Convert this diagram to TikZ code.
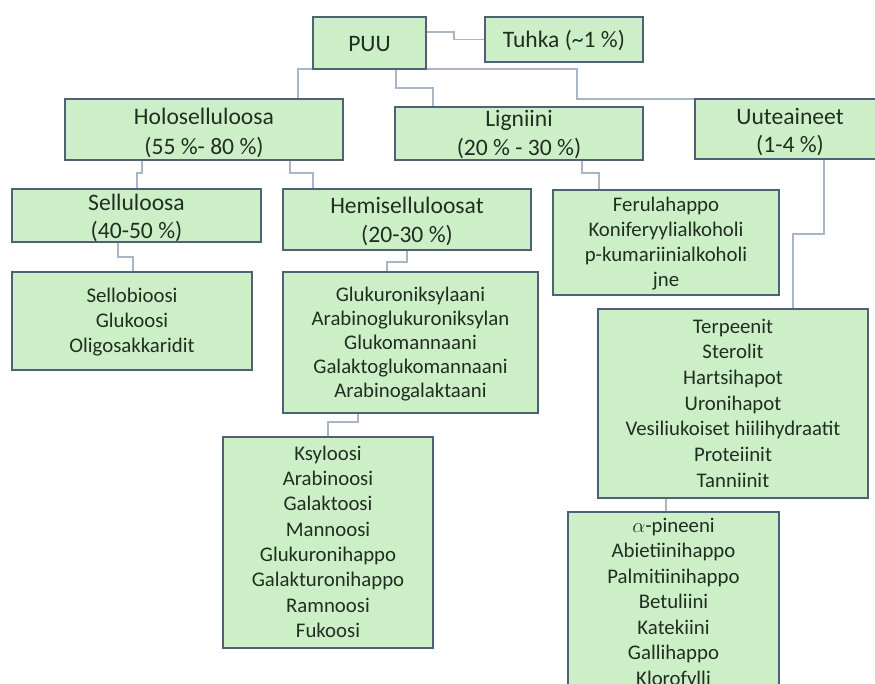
\documentclass[tikz,border=0pt]{standalone}
\usepackage{fontspec}
\setmainfont{Carlito}
\usetikzlibrary{calc,backgrounds}
\definecolor{boxfill}{RGB}{205,239,200}
\definecolor{boxline}{RGB}{78,98,118}
\definecolor{connline}{RGB}{168,182,198}
\definecolor{txtcol}{RGB}{32,46,32}
\begin{document}
\begin{tikzpicture}[x=1pt,y=-1pt,
  box/.style={draw=boxline, fill=boxfill, line width=2pt, inner sep=0pt, outer sep=0pt},
  hdr/.style={font=\fontsize{23.6}{#1}\selectfont, text=txtcol, align=center, anchor=north, inner sep=0pt},
  hdr/.default=28.5,
  lst/.style={font=\fontsize{20.8}{#1}\selectfont, text=txtcol, align=center, anchor=north, inner sep=0pt},
  lst/.default=25,
  conn/.style={draw=connline, line width=1.5pt}]
\useasboundingbox (0,0) rectangle (875,683);
\clip (0,0) rectangle (875,683);

% boxes
\node[box, minimum width=113pt, minimum height=52pt] (puu) at (369.5,43) {};
\node[box, minimum width=158pt, minimum height=45pt] (tuhka) at (564,39.5) {};
\node[box, minimum width=278pt, minimum height=61pt] (holo) at (204,129.5) {};
\node[box, minimum width=248pt, minimum height=53pt] (lig) at (519,133.5) {};
\node[box, minimum width=190pt, minimum height=60pt] (uute) at (790,129) {};
\node[box, minimum width=249pt, minimum height=53pt] (sell) at (136.5,215.5) {};
\node[box, minimum width=248pt, minimum height=61pt] (hemi) at (407,219.5) {};
\node[box, minimum width=226pt, minimum height=105pt] (ferula) at (666,242.5) {};
\node[box, minimum width=240pt, minimum height=98pt] (sellob) at (132,321) {};
\node[box, minimum width=255pt, minimum height=141pt] (gluk) at (410.5,342.5) {};
\node[box, minimum width=210pt, minimum height=211pt] (ksyl) at (328,542.5) {};
\node[box, minimum width=270pt, minimum height=189pt] (terp) at (733,403.5) {};
\node[box, minimum width=211pt, minimum height=208pt] (alpha) at (673.5,616) {};

% texts
\node[hdr] (puu-t) at (369.5,31) {\strut PUU};
\node[hdr] (tuhka-t) at (564,27.3) {\strut Tuhka (\textasciitilde 1 \%)};
\node[hdr=30] (holo-t) at (204,103.3) {\strut Holoselluloosa\\\strut (55 \%- 80 \%)};
\node[hdr] (lig-t) at (519,106.7) {\strut Ligniini\\\strut (20 \% - 30 \%)};
\node[hdr] (uute-t) at (790,104) {\strut Uuteaineet\\\strut (1-4 \%)};
\node[hdr] (sell-t) at (136.5,190) {\strut Selluloosa\\\strut (40-50 \%)};
\node[hdr] (hemi-t) at (407,193.4) {\strut Hemiselluloosat\\\strut (20-30 \%)};
\node[lst=25] (ferula-t) at (666,194.2) {\strut Ferulahappo\\\strut Koniferyylialkoholi\\\strut p-kumariinialkoholi\\\strut jne};
\node[lst=25] (sellob-t) at (132,284.5) {\strut Sellobioosi\\\strut Glukoosi\\\strut Oligosakkaridit};
\node[lst=24] (gluk-t) at (410.5,284.2) {\strut Glukuroniksylaani\\\strut Arabinoglukuroniksylan\\\strut Glukomannaani\\\strut Galaktoglukomannaani\\\strut Arabinogalaktaani};
\node[lst=25.3] (ksyl-t) at (328,442.3) {\strut Ksyloosi\\\strut Arabinoosi\\\strut Galaktoosi\\\strut Mannoosi\\\strut Glukuronihappo\\\strut Galakturonihappo\\\strut Ramnoosi\\\strut Fukoosi};
\node[lst=25.7] (terp-t) at (733,315) {\strut Terpeenit\\\strut Sterolit\\\strut Hartsihapot\\\strut Uronihapot\\\strut Vesiliukoiset hiilihydraatit\\\strut Proteiinit\\\strut Tanniinit};
\node[lst=25.5] (alpha-t) at (673.5,514.2) {\strut $\alpha$-pineeni\\\strut Abietiinihappo\\\strut Palmitiinihappo\\\strut Betuliini\\\strut Katekiini\\\strut Gallihappo\\\strut Klorofylli};

% connectors
\begin{scope}[on background layer]
\fill[white] (0,0) rectangle (875,683);
\draw[conn] ($(puu.north east)+(0,15)$) -- ++(28,0) |- (tuhka.west);
\draw[conn] (puu.south west) -| ($(holo.north west)+(233,0)$);
\draw[conn] ($(puu.south west)+(83,0)$) -- ++(0,19) -| ($(lig.north west)+(38,0)$);
\draw[conn] (puu.south east) -- ++(151,0) |- (uute.north west);
\draw[conn] ($(holo.south west)+(77,0)$) -- ++(0,13) -| ($(sell.north west)+(125,0)$);
\draw[conn] ($(holo.south west)+(225,0)$) -- ++(0,13) -| ($(hemi.north west)+(30,0)$);
\draw[conn] ($(lig.south west)+(187,0)$) -- ++(0,13) -| ($(ferula.north west)+(46,0)$);
\draw[conn] ($(uute.south west)+(129,0)$) -- ++(0,75) -| ($(terp.north west)+(195,0)$);
\draw[conn] ($(sell.south west)+(106,0)$) -- ++(0,15) -| ($(sellob.north west)+(121,0)$);
\draw[conn] (hemi.south) -- ++(0,12) -| ($(gluk.north west)+(104,0)$);
\draw[conn] ($(gluk.south west)+(75,0)$) -- ++(0,9) -| (ksyl.north);
\draw[conn] ($(terp.south west)+(68,0)$) -- ($(alpha.north west)+(98,0)$);
\end{scope}
\end{tikzpicture}
\end{document}
